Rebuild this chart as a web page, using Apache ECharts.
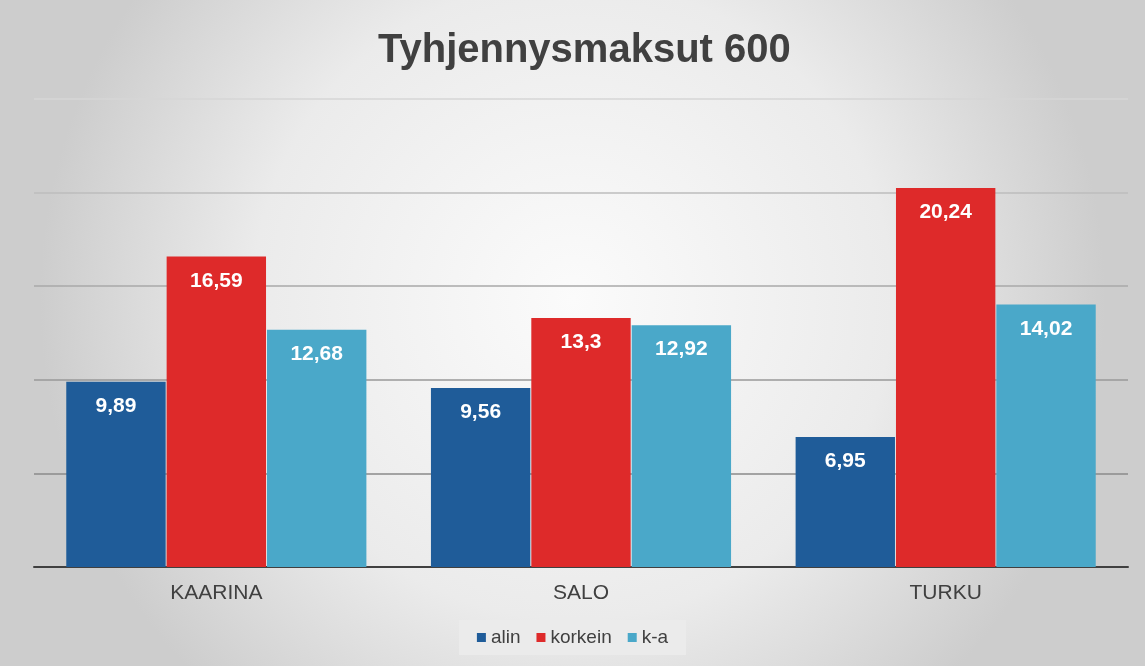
<!DOCTYPE html>
<html>
<head>
    <meta charset="utf-8">
    <title>Tyhjennysmaksut 600</title>
    <script src="https://cdn.jsdelivr.net/npm/echarts@6/dist/echarts.min.js"></script>
    <style>
        html, body { margin: 0; padding: 0; }
        #chart { width: 1145px; height: 666px; }
    </style>
</head>
<body>
    <div id="chart"></div>
    <script>
    // data
    const cities = ["KAARINA", "SALO", "TURKU"];
    const alin = [9.89, 9.56, 6.95];
    const korkein = [16.59, 13.3, 20.24];
    const ka = [12.68, 12.92, 14.02];

    const fmt = p => String(p.value).replace(".", ",");
    const label = {
        show: true,
        position: "insideTop",
        distance: 14,
        color: "#ffffff",
        fontSize: 21,
        fontWeight: "bold",
        fontFamily: "Liberation Sans",
        formatter: fmt
    };

    const option = {
        backgroundColor: {
            type: "radial", x: 0.5, y: 0.45, r: 0.8,
            colorStops: [
                { offset: 0, color: "#fbfbfb" },
                { offset: 0.6, color: "#ebebeb" },
                { offset: 1, color: "#cdcdcd" }
            ]
        },
        title: {
            text: "Tyhjennysmaksut 600",
            left: 373,
            top: 26,
            textStyle: { fontSize: 40, fontWeight: "bold", color: "#404040", fontFamily: "Liberation Sans" }
        },
        legend: {
            bottom: 11,
            left: "center",
            icon: "rect",
            itemWidth: 9,
            itemHeight: 9,
            itemGap: 16,
            padding: [8, 18, 8, 18],
            backgroundColor: "rgba(235,235,235,0.9)",
            textStyle: { fontSize: 19, color: "#404040", fontFamily: "Liberation Sans" },
            data: ["alin", "korkein", "k-a"]
        },
        grid: { left: 34, right: 17, top: 99, bottom: 99 },
        xAxis: {
            type: "category",
            data: cities,
            axisLine: { lineStyle: { color: "#404040", width: 2 } },
            axisTick: { show: false },
            axisLabel: { fontSize: 21, color: "#404040", margin: 16, fontFamily: "Liberation Sans" }
        },
        yAxis: {
            type: "value",
            min: 0, max: 25, interval: 5,
            axisLabel: { show: false },
            axisLine: { show: false },
            axisTick: { show: false },
            splitLine: { lineStyle: { color: ["#404040", "#8a8a8a", "#989898", "#a8a8a8", "#bcbcbc", "#d6d6d6"], width: 1.5 } }
        },
        series: [
            { name: "alin", type: "bar", data: alin, barGap: "1%", barCategoryGap: "17.7%",
              itemStyle: { color: "#1f5c99" }, label: label },
            { name: "korkein", type: "bar", data: korkein,
              itemStyle: { color: "#de2a2a" }, label: label },
            { name: "k-a", type: "bar", data: ka,
              itemStyle: { color: "#4aa8c9" }, label: label }
        ]
    };

    const chart = echarts.init(document.getElementById("chart"));
    chart.setOption(option);
    </script>
</body>
</html>
